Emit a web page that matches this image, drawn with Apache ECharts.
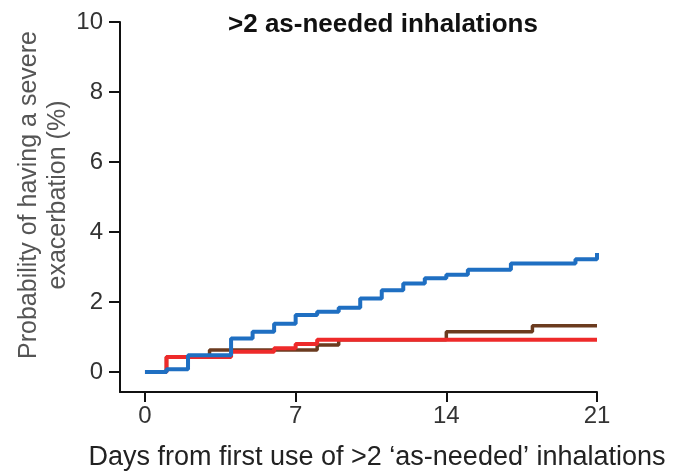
<!DOCTYPE html>
<html>
<head>
<meta charset="utf-8">
<script src="https://cdn.jsdelivr.net/npm/echarts@6/dist/echarts.min.js"></script>
<style>
html,body{margin:0;padding:0;background:#fff;}
#chart{width:675px;height:473px;}
</style>
</head>
<body>
<div id="chart"></div>
<script>
var titleText = '>2 as-needed inhalations';
var xAxisTitle = 'Days from first use of >2 \u2018as-needed\u2019 inhalations';
var yAxisTitle1 = 'Probability of having a severe';
var yAxisTitle2 = 'exacerbation (%)';
var xTicks = [0, 7, 14, 21];
var yTicks = [0, 2, 4, 6, 8, 10];

var blueDays =   [0, 1,   2,    4,    5,    6,    7,    8,    9,    10,  11,   12,   13,   14,   15,  17,  20,   21];
var blueValues = [0, 0.08,0.48, 0.96, 1.15, 1.38, 1.63, 1.72, 1.84, 2.1, 2.34, 2.53, 2.68, 2.78, 2.92,3.1, 3.22, 3.4];

var redDays =   [0, 1,    4,    6,    7,    8,    21];
var redValues = [0, 0.43, 0.58, 0.68, 0.8,  0.92, 0.92];

var brownDays =   [0, 1,    3,    8,    9,    14,   18,   21];
var brownValues = [0, 0.43, 0.63, 0.77, 0.92, 1.15, 1.32, 1.32];

function pairs(xs, ys){ return xs.map(function(x,i){ return [x, ys[i]]; }); }

var chart = echarts.init(document.getElementById('chart'), null, {renderer:'canvas'});
var font = '"Liberation Sans", Arial, sans-serif';
var option = {
  animation: false,
  backgroundColor: '#fff',
  title: {
    text: titleText,
    left: 378, top: 7, textAlign: 'center',
    textStyle: {fontFamily: font, fontWeight: 'bold', fontSize: 26, color: '#111'}
  },
  grid: {left: 120, right: 78, top: 22, bottom: 81, containLabel: false},
  xAxis: {
    type: 'value', min: -1.16, max: 21,
    splitLine: {show: false},
    axisLine: {show: true, onZero: false, lineStyle: {color: '#111', width: 2}},
    axisTick: {show: true, customValues: xTicks, length: 10, lineStyle: {color: '#111', width: 2}},
    axisLabel: {customValues: xTicks, fontFamily: font, fontSize: 24, color: '#333', margin: 12}
  },
  yAxis: {
    type: 'value', min: -0.57, max: 10,
    splitLine: {show: false},
    axisLine: {show: true, onZero: false, lineStyle: {color: '#111', width: 2}},
    axisTick: {show: true, customValues: yTicks, length: 11, lineStyle: {color: '#111', width: 2}},
    axisLabel: {customValues: yTicks, fontFamily: font, fontSize: 24, color: '#333', margin: 17}
  },
  graphic: [
    {type: 'text', x: 29, y: 195, rotation: Math.PI/2,
     style: {text: yAxisTitle1, font: '25px ' + font, fill: '#555', textAlign: 'center', textVerticalAlign: 'middle'}},
    {type: 'text', x: 58, y: 195, rotation: Math.PI/2,
     style: {text: yAxisTitle2, font: '25px ' + font, fill: '#555', textAlign: 'center', textVerticalAlign: 'middle'}},
    {type: 'text', x: 377, y: 458,
     style: {text: xAxisTitle, font: '27px ' + font, fill: '#222', textAlign: 'center', textVerticalAlign: 'middle'}}
  ],
  series: [
    {type: 'line', step: 'end', data: pairs(brownDays, brownValues), symbol: 'none',
     lineStyle: {color: '#6b3b1f', width: 3.5}, z: 2},
    {type: 'line', step: 'end', data: pairs(redDays, redValues), symbol: 'none',
     lineStyle: {color: '#ee2a2a', width: 4}, z: 3},
    {type: 'line', step: 'end', data: pairs(blueDays, blueValues), symbol: 'none',
     lineStyle: {color: '#1f6fc2', width: 4}, z: 4}
  ]
};
chart.setOption(option);
</script>
</body>
</html>
